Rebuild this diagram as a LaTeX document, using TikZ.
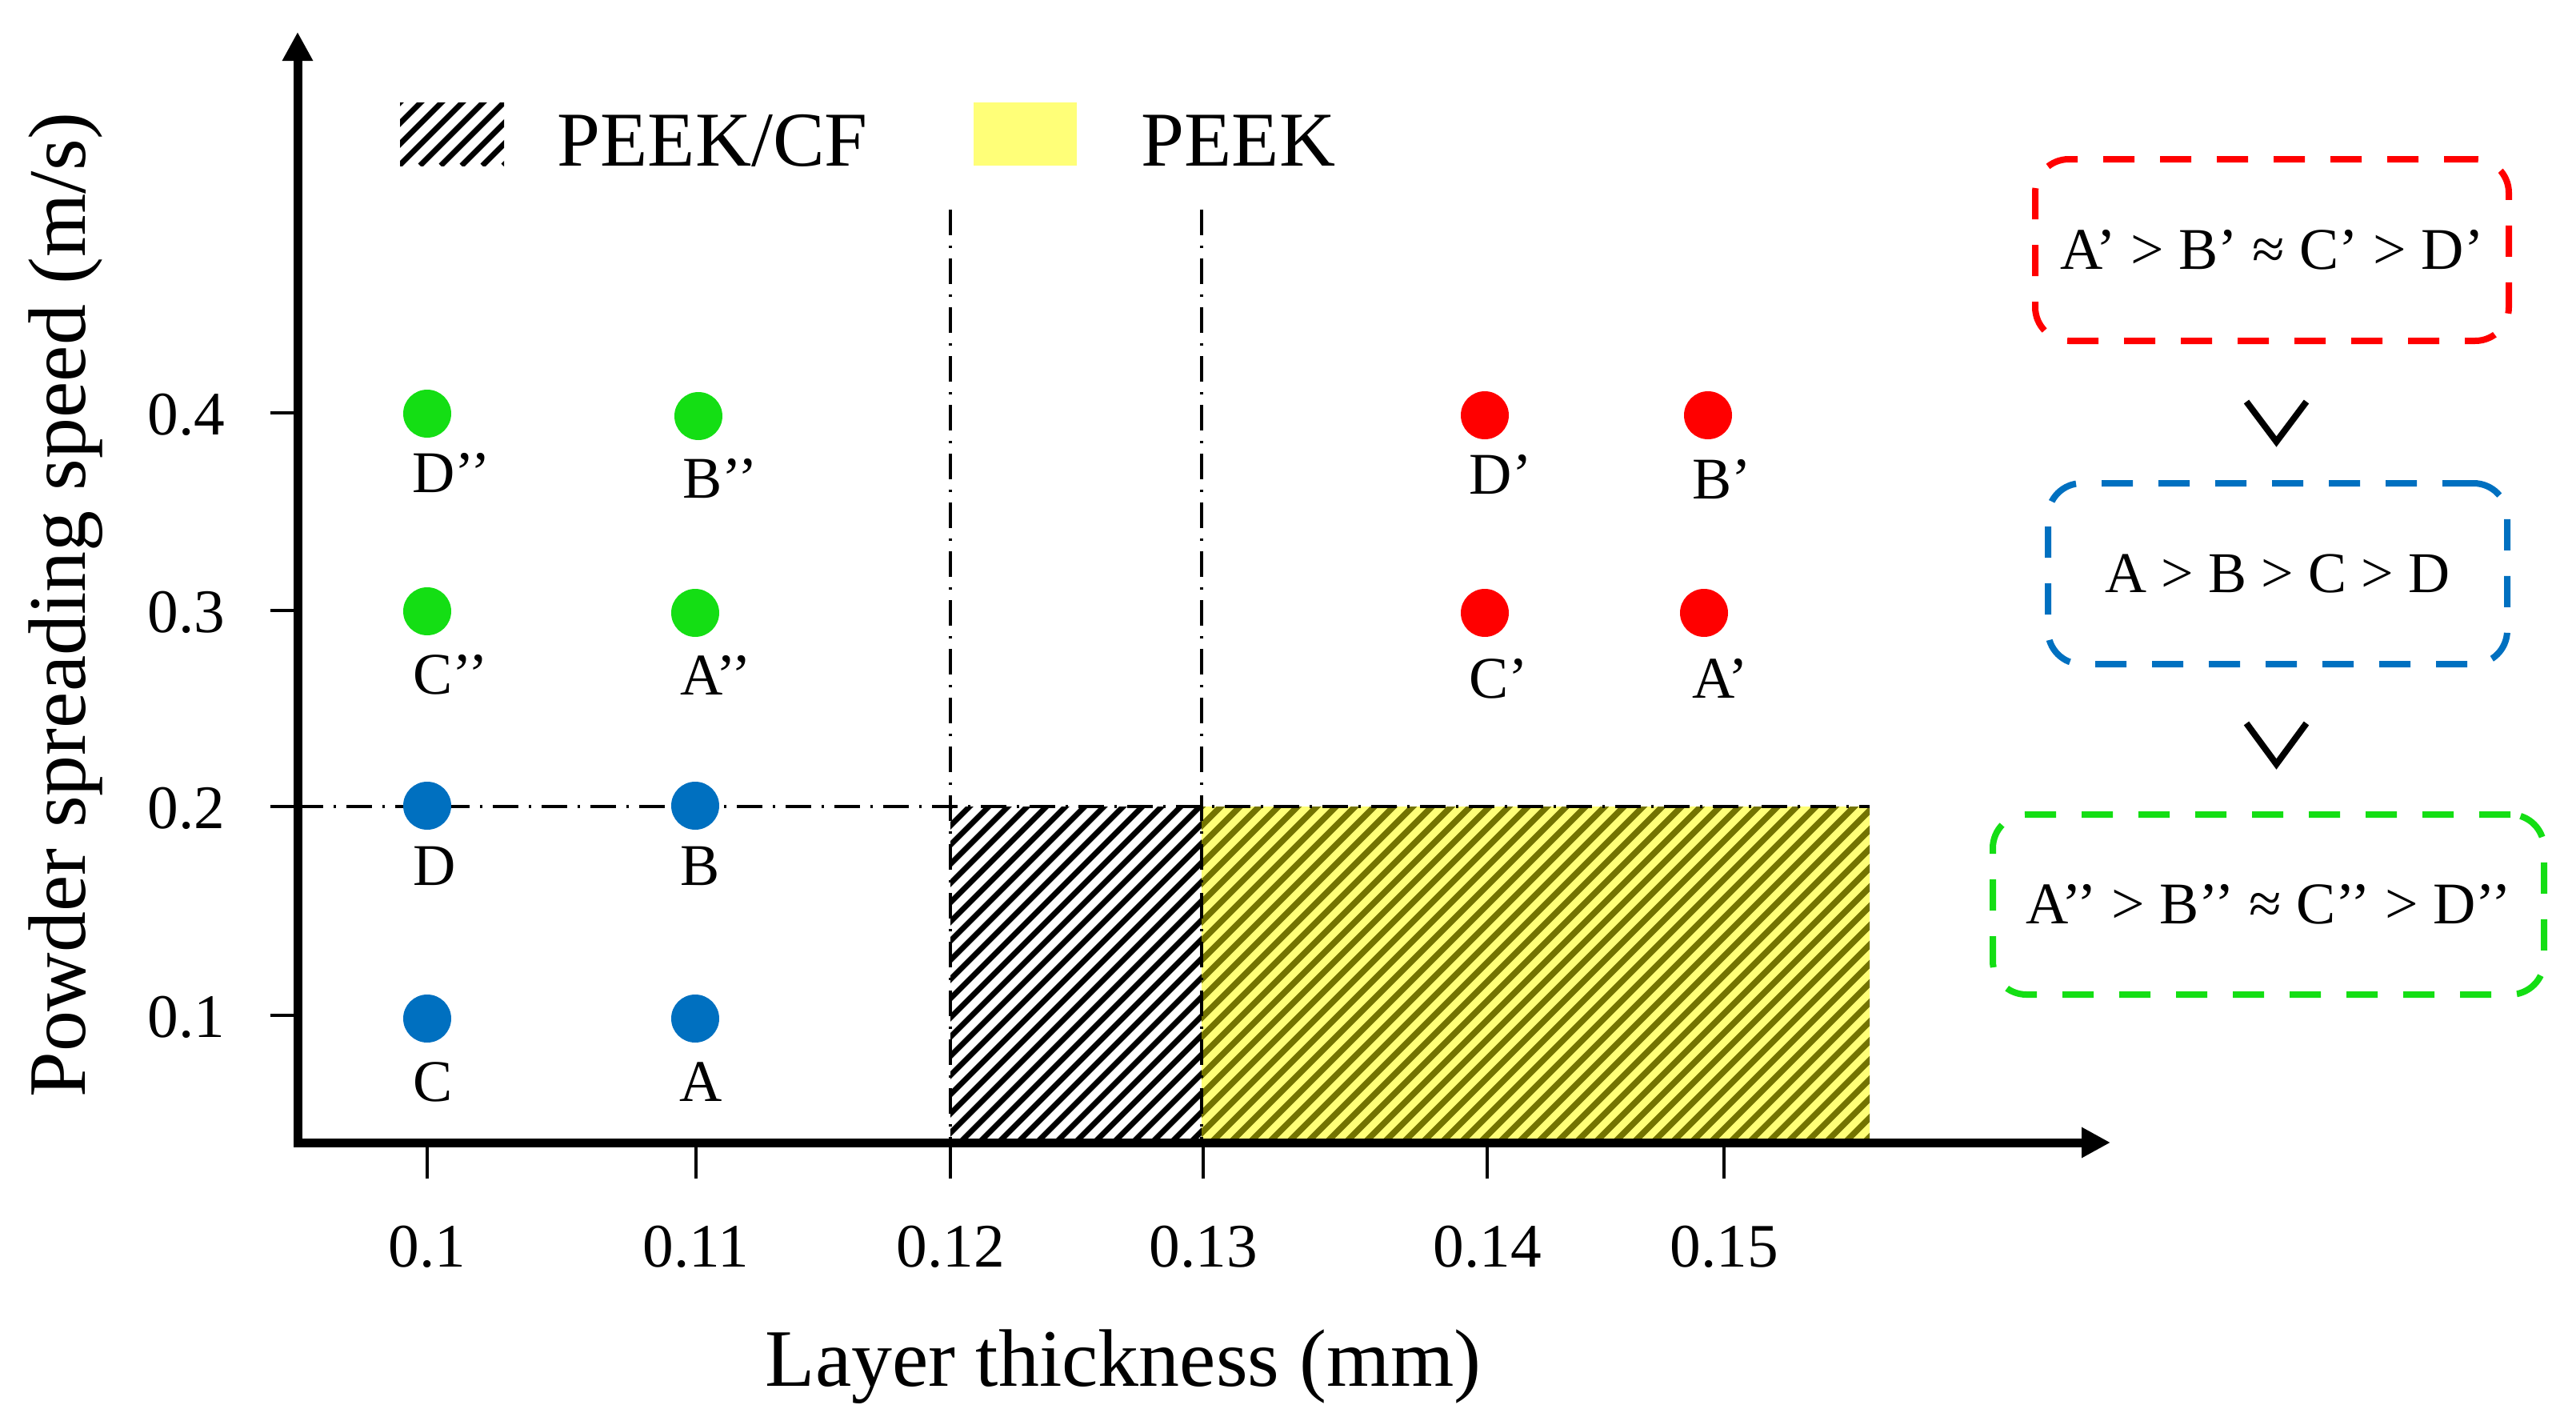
\documentclass[tikz,border=0pt]{standalone}
\usepackage{fontspec}
\setmainfont{Liberation Serif}
\usetikzlibrary{arrows.meta,calc}
\definecolor{cred}{RGB}{255,0,0}
\definecolor{cblue}{RGB}{0,112,192}
\definecolor{cgreen}{RGB}{20,222,20}
\definecolor{pyellow}{RGB}{255,255,120}
\definecolor{polive}{RGB}{115,115,0}
\tikzset{
  axisline/.style={line width=0.11cm},
  tickline/.style={line width=0.04cm},
  dashdot/.style={line width=0.04cm, dash pattern=on 0.32cm off 0.13cm on 0.03cm off 0.13cm},
  hatchline/.style={line width=0.07cm, black},
  olivehatch/.style={line width=0.075cm, polive},
  dot/.style={circle, fill=#1, minimum size=0.60cm, inner sep=0pt},
  ptlabel/.style={anchor=base west, inner sep=0pt, font=\fontsize{21}{25}\selectfont},
  ticklabel/.style={inner sep=0pt, font=\fontsize{22}{26}\selectfont},
  legendtext/.style={anchor=base west, inner sep=0pt, font=\fontsize{27.6}{32}\selectfont},
  axtitle/.style={inner sep=0pt, font=\fontsize{29}{34}\selectfont},
  rankbox/.style={draw=#1, line width=0.08cm, rounded corners=0.42cm,
     dash pattern=on 0.39cm off 0.32cm, inner sep=0pt,
     font=\fontsize{21}{25}\selectfont},
  chevron/.style={line width=0.08cm, line join=miter},
}
\begin{document}
\begin{tikzpicture}
\useasboundingbox (0,0) rectangle (32.20,-17.81);

% ---- hatched regions ----
\begin{scope}
  \clip (11.88,-14.28) rectangle (15.02,-10.08);
  \foreach \k in {0,...,32} \draw[hatchline] ({11.88-4.2+\k*0.24},-14.28) -- ++(4.3,4.3);
\end{scope}
\fill[pyellow] (15.02,-14.28) rectangle (23.37,-10.08);
\begin{scope}
  \clip (15.02,-14.28) rectangle (23.37,-10.08);
  \foreach \k in {0,...,54} \draw[olivehatch] ({15.02-4.2+\k*0.24},-14.28) -- ++(4.3,4.3);
\end{scope}

% ---- legend ----
\begin{scope}
  \clip (5.00,-2.07) rectangle (6.30,-1.28);
  \foreach \k in {0,...,9} \draw[hatchline] ({5.00-0.79+\k*0.26},-2.07) -- ++(0.85,0.85);
\end{scope}
\node[legendtext] (legcf) at (6.96,-2.07) {PEEK/CF};
\fill[pyellow] (12.17,-2.07) rectangle (13.46,-1.28);
\node[legendtext] (legpeek) at (14.26,-2.07) {PEEK};

% ---- dash-dot guide lines ----
\draw[dashdot] (11.88,-2.62) -- (11.88,-14.28);
\draw[dashdot] (15.02,-2.62) -- (15.02,-14.28);
\draw[dashdot] (3.72,-10.08) -- (23.37,-10.08);

% ---- axes ----
\coordinate (origin) at (3.72,-14.28);
\coordinate (ytip) at (3.72,-0.40);
\coordinate (xtip) at (26.38,-14.28);
\draw[axisline, -{Triangle[length=0.36cm,width=0.36cm]}] (3.72,-14.33) -- (ytip);
\draw[axisline, -{Triangle[length=0.36cm,width=0.36cm]}] (3.67,-14.28) -- (xtip);

% x ticks
\foreach \x/\t in {5.34/0.1, 8.70/0.11, 11.88/0.12, 15.04/0.13, 18.59/0.14, 21.55/0.15}{
  \draw[tickline] (\x,-14.33) -- (\x,-14.73);
  \node[ticklabel, anchor=base] at (\x,-15.83) {\t};
}
% y ticks
\foreach \y/\t in {5.16/0.4, 7.63/0.3, 10.08/0.2, 12.69/0.1}{
  \draw[tickline] (3.38,-\y) -- (3.67,-\y);
  \node[ticklabel, anchor=base east] at (2.82,{-\y-0.27}) {\t};
}

% axis titles
\node[axtitle, anchor=base] (xtitle) at (14.04,-17.32) {Layer thickness (mm)};
\node[axtitle, anchor=base, rotate=90] (ytitle) at (1.06,-7.56) {Powder spreading speed (m/s)};

% ---- data points ----
\node[dot=cgreen] (Dpp) at (5.34,-5.17) {};
\node[dot=cgreen] (Bpp) at (8.73,-5.20) {};
\node[dot=cgreen] (Cpp) at (5.34,-7.64) {};
\node[dot=cgreen] (App) at (8.69,-7.66) {};
\node[dot=cblue] (D) at (5.34,-10.07) {};
\node[dot=cblue] (B) at (8.69,-10.07) {};
\node[dot=cblue] (C) at (5.34,-12.73) {};
\node[dot=cblue] (A) at (8.69,-12.73) {};
\node[dot=cred] (Dp) at (18.56,-5.19) {};
\node[dot=cred] (Bp) at (21.35,-5.19) {};
\node[dot=cred] (Cp) at (18.56,-7.66) {};
\node[dot=cred] (Ap) at (21.30,-7.66) {};

\node[ptlabel] (lDpp) at ($(Dpp)+(-0.19,-0.98)$) {D’’};
\node[ptlabel] (lBpp) at ($(Bpp)+(-0.20,-1.02)$) {B’’};
\node[ptlabel] (lCpp) at ($(Cpp)+(-0.18,-1.03)$) {C’’};
\node[ptlabel] (lApp) at ($(App)+(-0.19,-1.02)$) {A’’};
\node[ptlabel] (lD) at ($(D)+(-0.18,-0.99)$) {D};
\node[ptlabel] (lB) at ($(B)+(-0.19,-0.99)$) {B};
\node[ptlabel] (lC) at ($(C)+(-0.18,-1.03)$) {C};
\node[ptlabel] (lA) at ($(A)+(-0.20,-1.03)$) {A};
\node[ptlabel] (lDp) at ($(Dp)+(-0.20,-0.98)$) {D’};
\node[ptlabel] (lBp) at ($(Bp)+(-0.20,-1.04)$) {B’};
\node[ptlabel] (lCp) at ($(Cp)+(-0.20,-1.06)$) {C’};
\node[ptlabel] (lAp) at ($(Ap)+(-0.15,-1.06)$) {A’};

% ---- ranking boxes ----
\node[rankbox=cred, minimum width=5.92cm, minimum height=2.27cm] (rbox) at (28.40,-3.125) {A’ > B’ ≈ C’ > D’};
\node[rankbox=cblue, minimum width=5.74cm, minimum height=2.26cm, font=\fontsize{20.5}{25}\selectfont] (bbox) at (28.47,-7.17) {A > B > C > D};
\node[rankbox=cgreen, minimum width=6.89cm, minimum height=2.25cm] (gbox) at (28.355,-11.305) {A’’ > B’’ ≈ C’’ > D’’};

\draw[chevron] (28.08,-5.02) -- (28.455,-5.52) -- (28.83,-5.02);
\draw[chevron] (28.08,-9.04) -- (28.455,-9.55) -- (28.83,-9.04);
\end{tikzpicture}
\end{document}
